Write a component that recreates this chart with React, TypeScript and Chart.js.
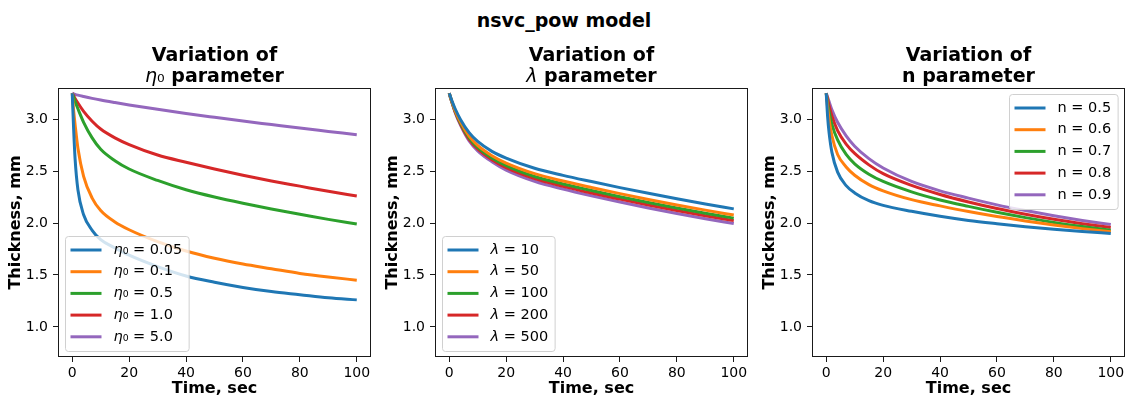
import React, { useEffect, useRef } from 'react';
import { Chart, registerables } from 'chart.js';

Chart.register(...registerables);

const FONT = '"DejaVu Sans", Verdana, sans-serif';
Chart.defaults.font.family = FONT;

// ---------- data ----------
const SUPTITLE = 'nsvc_pow model';
const X_LABEL = 'Time, sec';
const Y_LABEL = 'Thickness, mm';
const TIME = [0, 0.5, 1, 2, 4, 7, 10, 15, 20, 30, 40, 50, 60, 70, 80, 90, 100];
const X_TICKS = [0, 20, 40, 60, 80, 100];
const Y_TICKS = [1.0, 1.5, 2.0, 2.5, 3.0];
const X_MIN = -5;
const X_MAX = 105;
const Y_MIN = 0.71;
const Y_MAX = 3.3;
const COLORS = ['#1f77b4', '#ff7f0e', '#2ca02c', '#d62728', '#9467bd'];

// panel 1: eta0
const ETA_LABELS = ['η₀ = 0.05', 'η₀ = 0.1', 'η₀ = 0.5', 'η₀ = 1.0', 'η₀ = 5.0'];
const ETA_005 = [3.25, 2.9, 2.62, 2.32, 2.08, 1.93, 1.84, 1.76, 1.69, 1.58, 1.49, 1.43, 1.38, 1.34, 1.31, 1.28, 1.26];
const ETA_01 = [3.25, 3.08, 2.95, 2.72, 2.45, 2.24, 2.12, 2.01, 1.935, 1.82, 1.73, 1.66, 1.605, 1.56, 1.515, 1.48, 1.45];
const ETA_05 = [3.25, 3.21, 3.17, 3.1, 2.97, 2.82, 2.71, 2.6, 2.52, 2.41, 2.32, 2.25, 2.19, 2.135, 2.085, 2.035, 1.99];
const ETA_1 = [3.25, 3.225, 3.2, 3.155, 3.075, 2.98, 2.905, 2.82, 2.755, 2.655, 2.585, 2.52, 2.46, 2.405, 2.355, 2.305, 2.26];
const ETA_5 = [3.25, 3.244, 3.239, 3.231, 3.218, 3.2, 3.184, 3.16, 3.137, 3.095, 3.055, 3.018, 2.982, 2.948, 2.914, 2.882, 2.85];

// panel 2: lambda
const LAM_LABELS = ['λ = 10', 'λ = 50', 'λ = 100', 'λ = 200', 'λ = 500'];
const LAM_10 = [3.25, 3.21, 3.173, 3.105, 2.995, 2.87, 2.785, 2.69, 2.625, 2.527, 2.459, 2.399, 2.341, 2.286, 2.234, 2.184, 2.136];
const LAM_50 = [3.25, 3.206, 3.165, 3.09, 2.972, 2.836, 2.747, 2.648, 2.577, 2.475, 2.404, 2.342, 2.283, 2.227, 2.174, 2.124, 2.077];
const LAM_100 = [3.25, 3.204, 3.162, 3.083, 2.96, 2.82, 2.728, 2.627, 2.553, 2.448, 2.376, 2.313, 2.253, 2.197, 2.145, 2.095, 2.047];
const LAM_200 = [3.25, 3.202, 3.159, 3.077, 2.951, 2.806, 2.713, 2.61, 2.533, 2.427, 2.353, 2.289, 2.23, 2.173, 2.12, 2.07, 2.023];
const LAM_500 = [3.25, 3.2, 3.155, 3.07, 2.94, 2.79, 2.695, 2.59, 2.51, 2.402, 2.327, 2.262, 2.202, 2.145, 2.092, 2.042, 1.995];

// panel 3: n
const N_LABELS = ['n = 0.5', 'n = 0.6', 'n = 0.7', 'n = 0.8', 'n = 0.9'];
const N_05 = [3.25, 3.02, 2.87, 2.68, 2.49, 2.36, 2.29, 2.215, 2.17, 2.113, 2.065, 2.025, 1.993, 1.964, 1.939, 1.918, 1.9];
const N_06 = [3.25, 3.11, 3.0, 2.84, 2.66, 2.54, 2.46, 2.37, 2.31, 2.225, 2.165, 2.11, 2.062, 2.02, 1.981, 1.946, 1.915];
const N_07 = [3.25, 3.15, 3.07, 2.95, 2.8, 2.66, 2.57, 2.47, 2.4, 2.3, 2.222, 2.16, 2.103, 2.052, 2.006, 1.966, 1.93];
const N_08 = [3.25, 3.19, 3.13, 3.03, 2.89, 2.76, 2.67, 2.56, 2.475, 2.362, 2.275, 2.203, 2.14, 2.085, 2.036, 1.994, 1.957];
const N_09 = [3.25, 3.21, 3.17, 3.09, 2.97, 2.84, 2.74, 2.62, 2.53, 2.4, 2.31, 2.24, 2.175, 2.12, 2.07, 2.025, 1.985];

// ---------- rich text helpers ----------
type Seg = { t: string; it: boolean };
function segs(s: string): Seg[] {
  const out: Seg[] = [];
  for (const ch of s) {
    const it = ch === 'η' || ch === 'λ';
    const last = out[out.length - 1];
    if (last && last.it === it) last.t += ch;
    else out.push({ t: ch, it });
  }
  return out;
}
function fontFor(it: boolean, size: number) {
  return `${it ? 'italic ' : ''}${size}px ${FONT}`;
}
function measureRich(ctx: CanvasRenderingContext2D, s: string, size: number) {
  let w = 0;
  for (const g of segs(s)) {
    ctx.font = fontFor(g.it, size);
    w += ctx.measureText(g.t).width;
  }
  return w;
}
function drawRich(ctx: CanvasRenderingContext2D, s: string, x: number, y: number, size: number) {
  let cx = x;
  for (const g of segs(s)) {
    ctx.font = fontFor(g.it, size);
    ctx.fillText(g.t, cx, y);
    cx += ctx.measureText(g.t).width;
  }
}

const LINE_W = 3;

const mplPlugin = {
  id: 'mpl',
  afterDraw(chart: any, _args: any, opts: any) {
    const { ctx, chartArea: a } = chart;
    ctx.save();
    // spines
    ctx.strokeStyle = '#1a1a1a';
    ctx.lineWidth = 1;
    ctx.strokeRect(Math.round(a.left) + 0.5, Math.round(a.top) + 0.5, Math.round(a.right - a.left) - 1, Math.round(a.bottom - a.top) - 1);
    // legend
    const size = 14.5;
    const labels: string[] = opts.labels;
    let maxW = 0;
    labels.forEach((l) => (maxW = Math.max(maxW, measureRich(ctx, l, size))));
    const w = 5 + 31 + 12 + maxW + 7;
    const h = 115;
    let x0: number, y0: number;
    if (opts.corner === 'bl') {
      x0 = a.left + 7;
      y0 = a.bottom - 6 - h;
    } else {
      x0 = a.right - 7 - w;
      y0 = a.top + 6;
    }
    x0 = Math.round(x0) + 0.5;
    y0 = Math.round(y0) + 0.5;
    ctx.beginPath();
    ctx.roundRect(x0, y0, w, h, 3);
    ctx.fillStyle = 'rgba(255,255,255,0.8)';
    ctx.fill();
    ctx.strokeStyle = '#d0d0d0';
    ctx.lineWidth = 1;
    ctx.stroke();
    labels.forEach((l, i) => {
      const cy = y0 + 13.5 + i * 21.7;
      ctx.beginPath();
      ctx.moveTo(x0 + 5, cy);
      ctx.lineTo(x0 + 36, cy);
      ctx.strokeStyle = opts.colors[i];
      ctx.lineWidth = LINE_W;
      ctx.stroke();
      ctx.fillStyle = '#000';
      ctx.textBaseline = 'middle';
      ctx.textAlign = 'left';
      drawRich(ctx, l, x0 + 48, cy, size);
    });
    ctx.restore();
  },
};

type Panel = {
  left: number;
  labels: string[];
  series: number[][];
  corner: 'bl' | 'tr';
  title2: React.ReactNode;
};

const PANELS: Panel[] = [
  {
    left: 0,
    labels: ETA_LABELS,
    series: [ETA_005, ETA_01, ETA_05, ETA_1, ETA_5],
    corner: 'bl',
    title2: (
      <>
        <span style={{ fontStyle: 'italic', fontWeight: 'normal' }}>η</span>
        <span style={{ fontWeight: 'normal' }}>₀</span> parameter
      </>
    ),
  },
  {
    left: 377,
    labels: LAM_LABELS,
    series: [LAM_10, LAM_50, LAM_100, LAM_200, LAM_500],
    corner: 'bl',
    title2: (
      <>
        <span style={{ fontStyle: 'italic', fontWeight: 'normal' }}>λ</span> parameter
      </>
    ),
  },
  {
    left: 754,
    labels: N_LABELS,
    series: [N_05, N_06, N_07, N_08, N_09],
    corner: 'tr',
    title2: <>n parameter</>,
  },
];

const CW = 374;
const CH = 401;

function PanelChart({ panel }: { panel: Panel }) {
  const ref = useRef<HTMLCanvasElement | null>(null);
  useEffect(() => {
    if (!ref.current) return;
    const chart = new Chart(ref.current, {
      type: 'line',
      data: {
        datasets: panel.series.map((ys, i) => ({
          label: panel.labels[i],
          data: TIME.map((t, j) => ({ x: t, y: ys[j] })),
          borderColor: COLORS[i],
          backgroundColor: COLORS[i],
          borderWidth: LINE_W,
          pointRadius: 0,
          cubicInterpolationMode: 'monotone',
          fill: false,
        })),
      },
      options: {
        responsive: false,
        animation: false,
        devicePixelRatio: 1,
        events: [],
        layout: { padding: { top: 88, right: 3, bottom: 0, left: 0 } },
        plugins: {
          legend: { display: false },
          title: { display: false },
          tooltip: { enabled: false },
          mpl: { labels: panel.labels, colors: COLORS, corner: panel.corner },
        } as any,
        scales: {
          x: {
            type: 'linear',
            min: X_MIN,
            max: X_MAX,
            afterFit: (s: any) => {
              s.height = 44;
            },
            afterBuildTicks: (ax: any) => {
              ax.ticks = X_TICKS.map((v) => ({ value: v }));
            },
            ticks: {
              autoSkip: false,
              maxRotation: 0,
              padding: 3,
              color: '#000',
              font: { family: FONT, size: 14 },
              callback: (v: any) => String(v),
            },
            grid: { drawOnChartArea: false, drawTicks: true, tickLength: 5, color: '#1a1a1a' },
            border: { display: false },
            title: {
              display: true,
              text: X_LABEL,
              color: '#000',
              font: { family: FONT, size: 16, weight: 'bold' },
              padding: { top: 0, bottom: 3 },
            },
          },
          y: {
            type: 'linear',
            min: Y_MIN,
            max: Y_MAX,
            afterFit: (s: any) => {
              s.width = 58;
            },
            afterBuildTicks: (ax: any) => {
              ax.ticks = Y_TICKS.map((v) => ({ value: v }));
            },
            ticks: {
              autoSkip: false,
              padding: 5,
              color: '#000',
              font: { family: FONT, size: 14 },
              callback: (v: any) => Number(v).toFixed(1),
            },
            grid: { drawOnChartArea: false, drawTicks: true, tickLength: 5, color: '#1a1a1a' },
            border: { display: false },
            title: {
              display: true,
              text: Y_LABEL,
              color: '#000',
              font: { family: FONT, size: 16, weight: 'bold' },
              padding: { top: 6, bottom: 0 },
            },
          },
        },
      } as any,
      plugins: [mplPlugin],
    });
    return () => chart.destroy();
  }, [panel]);

  return (
    <>
      <canvas
        ref={ref}
        width={CW}
        height={CH}
        style={{ position: 'absolute', left: panel.left, top: 0, width: CW, height: CH }}
      />
      <div
        style={{
          position: 'absolute',
          left: panel.left + 58,
          width: 313,
          top: 44,
          textAlign: 'center',
          fontFamily: FONT,
          fontWeight: 'bold',
          fontSize: 19,
          lineHeight: '21px',
          color: '#000',
          whiteSpace: 'nowrap',
        }}
      >
        <div>Variation of</div>
        <div>{panel.title2}</div>
      </div>
    </>
  );
}

export default function App() {
  return (
    <div
      style={{
        position: 'absolute',
        left: 0,
        top: 0,
        width: 1128,
        height: 401,
        background: '#fff',
        overflow: 'hidden',
      }}
    >
      <div
        style={{
          position: 'absolute',
          left: 0,
          top: 9,
          width: 1128,
          textAlign: 'center',
          fontFamily: FONT,
          fontWeight: 'bold',
          fontSize: 19,
          lineHeight: '22px',
          color: '#000',
        }}
      >
        {SUPTITLE}
      </div>
      {PANELS.map((p, i) => (
        <PanelChart key={i} panel={p} />
      ))}
    </div>
  );
}
